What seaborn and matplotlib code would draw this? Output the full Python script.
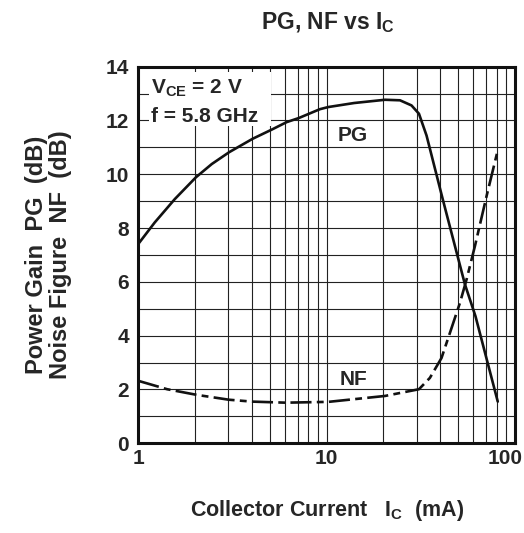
import matplotlib
matplotlib.use("Agg")
import matplotlib.pyplot as plt
import matplotlib.transforms as mtransforms
from matplotlib.patches import Rectangle
import seaborn as sns
import pandas as pd
import numpy as np

sns.set_theme(style="white")
plt.rcParams['font.family'] = ['Liberation Sans', 'DejaVu Sans']
plt.rcParams['font.weight'] = 'bold'
plt.rcParams['mathtext.fontset'] = 'custom'
plt.rcParams['mathtext.rm'] = 'Liberation Sans:bold'
plt.rcParams['mathtext.it'] = 'Liberation Sans:bold'
plt.rcParams['mathtext.bf'] = 'Liberation Sans:bold'

# Data
pg_ic = [1, 1.22, 1.56, 2.02, 2.45, 3.03, 4.04, 5.1, 6.13, 7.1, 9.2, 10.2, 14, 20.4, 24.5,
         28.2, 30.9, 33.9, 41.3, 54.2, 61.7, 81]
pg_db = [7.42, 8.21, 9.08, 9.89, 10.38, 10.82, 11.32, 11.66, 11.94, 12.09, 12.42, 12.5, 12.65,
         12.77, 12.75, 12.56, 12.25, 11.44, 9.08, 5.91, 4.72, 1.55]
nf_ic = [1, 1.42, 2.04, 3.02, 4.0, 6.05, 10.2, 20.4, 30.9, 35.3, 40.7, 45.1, 51, 55.3, 61.3,
         70.7, 80.9]
nf_db = [2.32, 2.01, 1.8, 1.62, 1.55, 1.51, 1.54, 1.76, 2.01, 2.43, 3.17, 4.1, 5.22, 6.09,
         7.34, 9.2, 10.88]
yticks = [0, 2, 4, 6, 8, 10, 12, 14]
xticks = [1, 10, 100]
xtick_labels = ["1", "10", "100"]

fig = plt.figure(figsize=(5.24, 5.33), dpi=100)
ax = fig.add_axes([0.2643, 0.1683, 0.7185, 0.7066])

pg = pd.DataFrame({"Ic": pg_ic, "dB": pg_db})
nf = pd.DataFrame({"Ic": nf_ic, "dB": nf_db})
sns.lineplot(data=pg, x="Ic", y="dB", ax=ax, color="#111111", linewidth=1.9, zorder=5)
sns.lineplot(data=nf, x="Ic", y="dB", ax=ax, color="#111111", linewidth=1.9, zorder=5)
ax.lines[1].set_dashes([8, 2, 2.6, 2])

ax.set_xscale("log")
ax.set_xlim(1, 100)
ax.set_ylim(0, 14)
ax.set_yticks(yticks)
ax.set_yticks(np.arange(0, 15, 1), minor=True)
ax.set_xticks(xticks)
ax.set_xticklabels(xtick_labels)
ax.xaxis.set_minor_locator(matplotlib.ticker.LogLocator(base=10, subs=np.arange(2, 10)))
ax.xaxis.set_minor_formatter(matplotlib.ticker.NullFormatter())
ax.grid(True, which="both", color="#222222", linewidth=0.8, zorder=1)
ax.set_axisbelow(True)
ax.tick_params(axis="both", which="major", labelsize=15, length=0)
ax.tick_params(axis="x", which="major", pad=4)
ax.tick_params(axis="y", which="major", pad=7)
ax.tick_params(axis="both", which="minor", length=0)
for lab in ax.get_xticklabels() + ax.get_yticklabels():
    lab.set_fontweight("bold")
# shift the last x label a little left (as in the reference)
lab100 = ax.get_xticklabels()[-1]
lab100.set_transform(lab100.get_transform() +
                     mtransforms.ScaledTranslation(-10 / 100, 0, fig.dpi_scale_trans))
for s in ax.spines.values():
    s.set_visible(True)
    s.set_color("#111111")
    s.set_linewidth(2.2)
    s.set_zorder(10)

ax.set_xlabel(r"Collector Current   I$_{\rm C}$  (mA)", fontsize=15.5, fontweight="bold",
              labelpad=22)
ax.set_ylabel("Power Gain  PG  (dB)\nNoise Figure  NF  (dB)", fontsize=17,
              fontweight="bold", labelpad=24, linespacing=1.05)
fig.text(0.626, 0.958, r"PG, NF vs I$_{\rm C}$", fontsize=16.5, fontweight="bold",
         ha="center", va="center")

ax.add_patch(Rectangle((1.137, 11.8), 5.06 - 1.137, 2.0, facecolor="white",
                       edgecolor="none", zorder=2))
ax.text(1.16, 13.0, "V$_{\\rm CE}$ = 2 V", fontsize=15, fontweight="bold",
        ha="left", va="baseline", zorder=6)
ax.text(1.16, 11.95, "f = 5.8 GHz", fontsize=15, fontweight="bold",
        ha="left", va="baseline", zorder=6)
ax.text(13.8, 11.44, "PG", fontsize=15, fontweight="bold", ha="center", va="center", zorder=6)
ax.text(13.8, 2.39, "NF", fontsize=15, fontweight="bold", ha="center", va="center", zorder=6)

fig.savefig("out.png", dpi=100)
